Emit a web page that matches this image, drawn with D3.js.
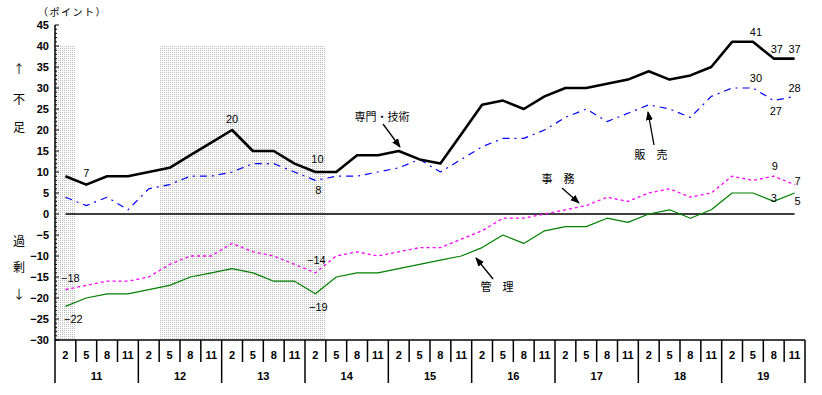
<!DOCTYPE html>
<html><head><meta charset="utf-8">
<script src="https://cdn.jsdelivr.net/npm/d3@7"></script>
<style>
html,body{margin:0;padding:0;background:#fff;}
text{font-family:"Liberation Sans","DejaVu Sans",sans-serif;}
.jp{font-family:"Noto Sans CJK JP","Noto Sans",sans-serif;}
</style></head>
<body><svg id="c" width="822" height="395"></svg>
<script>
// ---- data ----
const years = ["11","12","13","14","15","16","17","18","19"];
const quarters = ["2","5","8","11"];
const senmon = [9,7,9,9,10,11,14,17,20,15,15,12,10,10,14,14,15,13,12,19,26,27,25,28,30,30,31,32,34,32,33,35,41,41,37,37];
const hanbai = [4,2,4,1,6,7,9,9,10,12,12,10,8,9,9,10,11,13,10,13,16,18,18,20,23,25,22,24,26,25,23,28,30,30,27,28];
const jimu   = [-18,-17,-16,-16,-15,-12,-10,-10,-7,-9,-10,-12,-14,-10,-9,-10,-9,-8,-8,-6,-4,-1,-1,0,1,2,4,3,5,6,4,5,9,8,9,7];
const kanri  = [-22,-20,-19,-19,-18,-17,-15,-14,-13,-14,-16,-16,-19,-15,-14,-14,-13,-12,-11,-10,-8,-5,-7,-4,-3,-3,-1,-2,0,1,-1,1,5,5,3,5];
const yTicks = [45,40,35,30,25,20,15,10,5,0,-5,-10,-15,-20,-25,-30];
const shadedPeriods = [[0,0],[5,12]]; // category index ranges
const shadeTop = 40;

// ---- setup ----
const svg = d3.select("#c");
const cats = d3.range(years.length*quarters.length);
const x = d3.scaleBand().domain(cats).range([55,805]).paddingInner(0).paddingOuter(0);
const bw = x.bandwidth();
const cx = i => x(i) + bw/2;
const y = d3.scaleLinear().domain([-30,45]).range([340,25]);

// dot pattern
const defs = svg.append("defs");
const pat = defs.append("pattern").attr("id","dots").attr("patternUnits","userSpaceOnUse")
  .attr("width",2).attr("height",2);
pat.append("rect").attr("x",0).attr("y",0).attr("width",1).attr("height",1).attr("fill","#bdbdbd");

svg.append("g").selectAll("rect").data(shadedPeriods).join("rect")
  .attr("x",d=>x(d[0])).attr("width",d=>x(d[1])+bw-x(d[0]))
  .attr("y",y(shadeTop)).attr("height",y(-30)-y(shadeTop))
  .attr("fill","url(#dots)");

// y axis
const yAxis = d3.axisLeft(y).tickValues(yTicks).tickSize(0).tickPadding(6)
  .tickFormat(d=>String(d).replace("-","−"));
const gy = svg.append("g").attr("transform","translate(55,0)").call(yAxis);
gy.select(".domain").remove();
gy.selectAll("text").attr("font-size",11).attr("font-weight","bold").attr("fill","#000")
  .attr("font-family","'Liberation Sans',sans-serif");
// inward minor ticks
svg.append("g").selectAll("line").data(d3.range(-30,46,1)).join("line")
  .attr("x1",55).attr("x2",d=>d%5===0?59:57).attr("y1",d=>y(d)).attr("y2",d=>y(d))
  .attr("stroke","#000").attr("stroke-width",1);
svg.append("line").attr("x1",55).attr("x2",55).attr("y1",y(45)).attr("y2",383)
  .attr("stroke","#000").attr("stroke-width",1.5);

// x axis baseline
svg.append("line").attr("x1",55).attr("x2",805).attr("y1",y(-30)).attr("y2",y(-30))
  .attr("stroke","#000").attr("stroke-width",1.5);
// quarter dividers
svg.append("g").selectAll("line").data(d3.range(1,cats.length+1)).join("line")
  .attr("x1",d=>d<cats.length?x(d):805).attr("x2",d=>d<cats.length?x(d):805)
  .attr("y1",y(-30)).attr("y2",d=>(d%4===0)?383:362)
  .attr("stroke","#000").attr("stroke-width",1.5);
// quarter labels
svg.append("g").selectAll("text").data(cats).join("text")
  .attr("x",d=>cx(d)).attr("y",359).attr("text-anchor","middle")
  .attr("font-size",11).attr("font-weight","bold").text(d=>quarters[d%4]);
// year labels
svg.append("g").selectAll("text").data(years).join("text")
  .attr("x",(d,i)=>(x(i*4)+x(i*4+3)+bw)/2).attr("y",380).attr("text-anchor","middle")
  .attr("font-size",11).attr("font-weight","bold").text(d=>d);

// zero line
svg.append("line").attr("x1",cx(0)).attr("x2",cx(cats.length-1)).attr("y1",y(0)).attr("y2",y(0))
  .attr("stroke","#000").attr("stroke-width",1.5);

// lines
const line = d3.line().x((d,i)=>cx(i)).y(d=>y(d));
const series = [
  {data:kanri, color:"#008000", w:1.2, dash:null},
  {data:jimu, color:"#ff00ff", w:1.3, dash:"3,3"},
  {data:hanbai, color:"#0000ff", w:1.2, dash:"7,5,2,5"},
  {data:senmon, color:"#000000", w:2.6, dash:null}
];
svg.append("g").selectAll("path").data(series).join("path")
  .attr("d",d=>line(d.data)).attr("fill","none").attr("stroke",d=>d.color)
  .attr("stroke-width",d=>d.w).attr("stroke-dasharray",d=>d.dash).attr("stroke-linejoin","round");

// value labels
const fmt = v => String(v).replace("-","−");
const labels = [
  [senmon,1,0,-8],[senmon,8,0,-7],[senmon,12,2,-9],[senmon,33,3,-6],[senmon,34,3,-6],[senmon,35,0,-6],
  [hanbai,12,3,14],[hanbai,33,3,-6],[hanbai,34,2,14],[hanbai,35,0,-4],
  [jimu,0,5,-8],[jimu,12,1,-9],[jimu,34,1,-6],[jimu,35,3,0],
  [kanri,0,8,17],[kanri,12,3,17],[kanri,34,0,1],[kanri,35,3,12]
];
svg.append("g").selectAll("text").data(labels).join("text")
  .attr("x",d=>cx(d[1])+d[2]).attr("y",d=>y(d[0][d[1]])+d[3]).attr("text-anchor","middle")
  .attr("font-size",11).attr("fill","#000").text(d=>fmt(d[0][d[1]]));

// annotations with arrows
defs.append("marker").attr("id","ah").attr("viewBox","0 0 10 10").attr("refX",9).attr("refY",5)
  .attr("markerWidth",7).attr("markerHeight",7).attr("orient","auto")
  .append("path").attr("d","M0,1 L10,5 L0,9 Z").attr("fill","#000");
const notes = [
  {t:"専門・技術", tx:382, ty:121, x1:383, y1:124, x2:400, y2:147},
  {t:"販　売", tx:651, ty:159, x1:654, y1:145, x2:648, y2:112},
  {t:"事　務", tx:558, ty:183, x1:562, y1:188, x2:579, y2:203},
  {t:"管　理", tx:497, ty:291, x1:493, y1:279, x2:476, y2:258}
];
const gn = svg.append("g");
notes.forEach(n=>{
  gn.append("text").attr("class","jp").attr("x",n.tx).attr("y",n.ty).attr("text-anchor","middle")
    .attr("font-size",11).text(n.t);
  gn.append("line").attr("x1",n.x1).attr("y1",n.y1).attr("x2",n.x2).attr("y2",n.y2)
    .attr("stroke","#000").attr("stroke-width",1.3).attr("marker-end","url(#ah)");
});

// side labels
svg.append("text").attr("class","jp").attr("x",38).attr("y",16).attr("font-size",10)
  .attr("letter-spacing",1.5).text("（ポイント）");
const side = [["↑",74],["不",104],["足",132],["過",246],["剰",272],["↓",299]];
svg.append("g").selectAll("text").data(side).join("text").attr("class","jp")
  .attr("x",19).attr("y",d=>d[1]).attr("text-anchor","middle").attr("font-size",12).text(d=>d[0]);
</script></body></html>
